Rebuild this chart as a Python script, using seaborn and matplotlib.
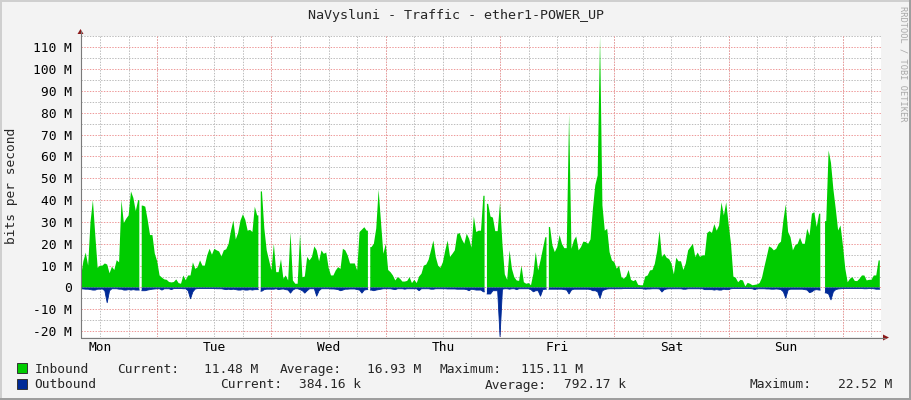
import numpy as np
import pandas as pd
import matplotlib
matplotlib.use("Agg")
import matplotlib.pyplot as plt
from matplotlib.patches import Rectangle, Polygon
from matplotlib.lines import Line2D
import seaborn as sns

# RRDtool-style weekly traffic graph, values in Mbit/s, one sample per 30 min
title = "NaVysluni - Traffic - ether1-POWER_UP"
day_labels = ["Mon", "Tue", "Wed", "Thu", "Fri", "Sat", "Sun"]
step_hours = 0.5
nan = np.nan

inbound_mbps = [
    5, 12, 16, 10, 30, 40, 24, 9, 10, 10, 11, 10.5,
    6.5, 9.5, 8, 12.5, 11.5, 40, 29.5, 31.5, 33, 44, 41, 35,
    40, nan, 37.5, 37, 31, 24, 24, 15.5, 12, 5.5, 4.5, 3.7,
    3.5, 2.5, 2.3, 2.5, 3.7, 2, 1.7, 5.5, 3.3, 5.5, 5.5, 11.5,
    8.5, 9.3, 12.4, 10, 10, 14.7, 17.7, 15, 17.7, 17, 16.5, 14.2,
    17, 17.5, 20, 26, 30.7, 22, 25, 30.7, 33.5, 31, 26, 26.4,
    25.4, 37, 33, nan, 44, 27, 17, 12.4, 7.8, 20, 7, 7,
    13, 4, 5.5, 3.2, 25.4, 3.2, 1.7, 1.7, 24.3, 4.7, 5, 14,
    12.4, 14, 18.8, 17, 12, 17, 15.4, 16, 9, 5.5, 5.5, 7.8,
    9.3, 8.5, 17.7, 17, 14.7, 11, 11, 11, 7.8, 25.4, 26.5, 27.6,
    26, nan, 18.5, 20, 27, 44.8, 30, 15.4, 20, 8, 7, 5.5,
    3.2, 4.7, 4, 2.7, 2.7, 3, 4.7, 2, 3.5, 2, 5, 6.3,
    10, 10.5, 12.7, 17, 21.5, 14, 10, 9, 11.6, 17, 21.5, 14,
    15.4, 17, 24.3, 25, 22, 20, 24.6, 22.3, 18.2, 32.5, 25.4, 26,
    26, 42, nan, 38.3, 32.5, 32, 25.8, 25.8, 39, 20, 6, 3.5,
    17, 8.5, 4.7, 3.2, 3, 10, 2.4, 1.7, 2, 1, 6.3, 16.2,
    7.8, 12.4, 17.7, 23, nan, 27.7, 19.3, 16.2, 18.5, 24, 20, 18,
    18, 79.6, 17.7, 21.5, 23.4, 17, 18.5, 21, 20.8, 20, 22, 36,
    46.8, 51.3, 115, 37.6, 26, 26.9, 16.2, 12.4, 11.6, 8.6, 10, 4.7,
    4, 5, 8, 3.5, 2.9, 3.5, 1.2, 1, 1, 5, 5.5, 7.8,
    8, 10.8, 16.7, 26, 14, 15.4, 13.6, 13, 11, 6, 13.6, 12,
    12, 8, 11, 17, 18.5, 20, 13.9, 16, 14, 14.7, 14.7, 24.9,
    25.8, 25, 29, 26, 28.4, 39, 33, 39, 29, 20, 5, 4.4,
    2.4, 3.5, 3.2, 0.5, 2.1, 1.7, 1, 1.2, 1.4, 2, 4.4, 9.3,
    14, 18.8, 18.2, 17, 17.7, 20, 21, 30.7, 38, 25.4, 23, 17,
    19.3, 20, 22.8, 20, 20, 26.9, 23.8, 33.8, 34.5, 27.7, 33.8, nan,
    nan, 30.4, 62.8, 57, 45, 36, 26.1, 28.4, 19.3, 8.6, 2.4, 4,
    4.7, 3, 2.9, 4, 5.5, 5.5, 3.2, 3.5, 3.5, 5.5, 5.5, 12.4,
]

outbound_mbps = [
    -0.6, -0.7, -0.8, -0.8, -1.0, -1.2, -1.2, -0.8, -0.8, -0.7, -1.5, -7.0,
    -1.5, -0.6, -0.6, -0.6, -0.8, -0.8, -1.2, -1.2, -1.0, -1.2, -1.0, -1.2,
    -1.2, nan, -1.5, -1.5, -1.2, -1.0, -0.8, -0.7, -0.6, -0.6, -1.2, -0.6,
    -0.6, -0.6, -1.0, -0.5, -0.5, -0.5, -0.5, -0.6, -0.6, -1.5, -5.2, -2.0,
    -0.7, -0.5, -0.5, -0.5, -0.5, -0.5, -0.5, -0.5, -0.5, -0.6, -0.6, -0.6,
    -0.8, -1.0, -0.8, -1.0, -0.8, -1.0, -1.2, -1.2, -1.0, -1.2, -1.2, -1.0,
    -1.2, -1.0, -1.0, nan, -1.7, -1.0, -0.8, -0.8, -0.8, -0.8, -0.6, -1.0,
    -0.8, -0.7, -1.0, -1.2, -2.6, -1.2, -0.6, -0.6, -1.0, -1.5, -2.6, -1.5,
    -0.6, -0.6, -0.6, -4.0, -1.5, -0.6, -0.6, -0.6, -0.6, -0.7, -0.7, -0.8,
    -1.0, -1.5, -1.2, -0.8, -0.8, -0.7, -0.7, -0.7, -1.0, -1.2, -2.6, -1.2,
    -1.0, nan, -1.2, -1.5, -1.2, -1.0, -0.8, -0.6, -0.6, -0.6, -0.6, -0.8,
    -1.0, -0.6, -0.6, -0.6, -0.8, -0.6, -0.6, -0.6, -0.6, -0.6, -1.5, -0.6,
    -0.6, -0.6, -0.6, -0.8, -0.8, -0.6, -0.6, -0.6, -0.6, -0.6, -0.7, -0.7,
    -0.7, -0.7, -0.8, -0.8, -0.8, -0.8, -1.0, -1.5, -0.8, -1.0, -1.2, -1.2,
    -1.2, -2.0, nan, -3.0, -3.0, -1.5, -1.5, -1.5, -22.5, -0.8, -0.6, -0.6,
    -0.8, -0.6, -0.6, -1.0, -0.6, -0.6, -0.6, -0.6, -0.6, -1.0, -2.0, -1.5,
    -1.5, -4.0, -1.0, -0.8, nan, -0.8, -0.8, -0.8, -0.8, -0.8, -0.8, -1.0,
    -1.2, -3.0, -1.2, -0.8, -0.8, -0.8, -0.8, -0.8, -0.8, -0.8, -1.0, -1.5,
    -1.5, -2.0, -5.0, -1.5, -1.0, -0.7, -0.6, -0.6, -0.6, -0.6, -0.6, -0.6,
    -0.5, -0.5, -0.5, -0.5, -0.5, -0.5, -0.5, -0.5, -0.6, -0.8, -0.7, -0.7,
    -0.6, -0.6, -0.6, -0.7, -2.1, -1.0, -0.7, -0.6, -0.6, -0.6, -0.6, -0.6,
    -0.6, -0.8, -0.8, -0.6, -0.6, -0.6, -0.6, -0.6, -0.6, -0.6, -1.0, -1.0,
    -1.0, -1.0, -1.2, -1.0, -1.2, -1.2, -0.8, -1.0, -1.0, -0.6, -0.5, -0.5,
    -0.5, -0.5, -0.5, -0.5, -0.5, -0.5, -0.6, -1.0, -0.6, -0.6, -0.6, -0.6,
    -0.7, -0.7, -0.8, -0.8, -0.7, -0.8, -1.0, -2.0, -4.9, -1.2, -0.8, -0.8,
    -0.8, -0.8, -0.8, -0.8, -1.0, -1.2, -2.4, -2.0, -1.2, -1.0, -1.2, nan,
    nan, -2.5, -3.0, -5.7, -2.0, -1.0, -0.7, -0.6, -0.5, -0.5, -0.5, -0.5,
    -0.5, -0.5, -0.5, -0.5, -0.5, -0.6, -0.6, -0.5, -0.5, -0.6, -0.8, -0.8,
]

legend_names = ["Inbound", "Outbound"]
legend_stats = [
    [("Current:", "11.48 M"), ("Average:", "16.93 M"), ("Maximum:", "115.11 M")],
    [("Current:", "384.16 k"), ("Average:", "792.17 k"), ("Maximum:", "22.52 M")],
]

in_color = "#00CC00"
out_color = "#002A97"
W, H = 911, 400

sns.set_theme(style="white")
plt.rcParams["font.family"] = ["DejaVu Sans Mono"]
fs = 9.3


def px(x, y):
    return x / W, 1 - y / H


def area_xy(vals):
    # linear between samples, each run of samples padded by half a step at its ends
    vals = np.asarray(vals, dtype=float)
    xs, ys = [], []
    n = len(vals)
    for i, v in enumerate(vals):
        t = i * step_hours
        if np.isnan(v):
            xs.append(t)
            ys.append(np.nan)
            continue
        if i == 0 or np.isnan(vals[i - 1]):
            xs.append(t - step_hours / 2)
            ys.append(v)
        xs.append(t)
        ys.append(v)
        if i == n - 1 or np.isnan(vals[i + 1]):
            xs.append(t + step_hours / 2)
            ys.append(v)
    return np.array(xs), np.array(ys)


fig = plt.figure(figsize=(W / 100, H / 100), dpi=100, facecolor="#F3F3F3")
ax = fig.add_axes([81 / W, (H - 337) / H, 800 / W, (337 - 36) / H])
ax.set_facecolor("white")

in_x, in_y = area_xy(inbound_mbps)
out_x, out_y = area_xy(outbound_mbps)

ax.fill_between(in_x, 0, np.ma.masked_invalid(in_y), color=in_color, lw=0, zorder=3)
ax.fill_between(out_x, 0, np.ma.masked_invalid(out_y), color=out_color, lw=0, zorder=3)

df = pd.DataFrame({"hour": out_x, "out": out_y})
df["seg"] = np.isnan(out_y).cumsum()
df = df.dropna()
sns.lineplot(data=df, x="hour", y="out", units="seg", estimator=None, sort=False,
             color=out_color, lw=0.6, ax=ax, legend=False, zorder=4)

ax.set_xlim(0, 168)
ax.set_ylim(-22.7, 115.2)
ax.set_xlabel("")
ax.set_ylabel("")

# grid
gray = "#BDBDBD"
red = "#EE9A9A"
dots = (0, (1.4, 1.4))
six_h = np.arange(4, 168, 6)
midnights = np.arange(16, 168, 24)
y_major = np.arange(-20, 111, 10)
y_minor = np.arange(-15, 116, 10)
for x in six_h:
    ax.axvline(x, color=gray, lw=0.72, ls=dots, zorder=1)
for x in midnights:
    ax.axvline(x, color=red, lw=0.72, ls=dots, zorder=2)
for y in y_minor:
    ax.axhline(y, color=gray, lw=0.72, ls=dots, zorder=1)
for y in y_major:
    ax.axhline(y, color=red, lw=0.72, ls=dots, zorder=2)

ax.set_xticks(np.arange(4, 168, 24), labels=day_labels)
ax.set_xticks(six_h, minor=True)
ax.set_yticks(y_major, labels=["0" if v == 0 else f"{v} M" for v in y_major])
ax.set_yticks(y_minor, minor=True)
ax.tick_params(axis="x", which="major", length=0, pad=2.6, labelsize=fs, colors="black")
ax.tick_params(axis="x", which="minor", length=2, width=0.7, color="#777777", direction="out")
ax.tick_params(axis="y", which="major", length=2, width=0.7, color="#777777",
               direction="out", pad=4.4, labelsize=fs, labelcolor="black")
ax.tick_params(axis="y", which="minor", length=1.2, width=0.7, color="#777777", direction="out")
for s in ax.spines.values():
    s.set_visible(False)

# axis lines with arrows
axis_c = "#7A7A7A"
arrow_c = "#8B1A1A"
fig.add_artist(Line2D(*zip(px(80.5, 337.5), px(80.5, 31)), color=axis_c, lw=0.8))
fig.add_artist(Line2D(*zip(px(80.5, 337.5), px(885, 337.5)), color=axis_c, lw=0.8))
fig.add_artist(Polygon([px(77.5, 34), px(83.5, 34), px(80.5, 29)], closed=True,
                       transform=fig.transFigure, color=arrow_c, lw=0))
fig.add_artist(Polygon([px(883, 334.5), px(883, 340.5), px(889, 337.5)], closed=True,
                       transform=fig.transFigure, color=arrow_c, lw=0))

# texts
fig.text(*px(455.5, 19), title, ha="center", va="baseline", fontsize=9.6)
fig.text(*px(12, 186), "bits per second", rotation=90, ha="center", va="center", fontsize=fs)
fig.text(*px(903, 6), "RRDTOOL / TOBI OETIKER", rotation=270, ha="center", va="top",
         fontsize=6.2, color="#A8A8A8")

# legend
rows_y = [373, 388.5]
box_top = [363.3, 379.3]
stat_x = [
    [(116.7, 204), (279.3, 366.7), (440, 521)],
    [(220, 299.3), (485, 564.3), (749.3, 837.7)],
]
for r, (name, color) in enumerate(zip(legend_names, [in_color, out_color])):
    x0, y0 = px(17.3, box_top[r] + 10)
    fig.add_artist(Rectangle((x0, y0), 10 / W, 10 / H, transform=fig.transFigure,
                             facecolor=color, edgecolor="#333333", lw=0.7))
    fig.text(*px(34.3, rows_y[r]), name, ha="left", va="baseline", fontsize=fs)
    for (lbl, val), (xl, xv) in zip(legend_stats[r], stat_x[r]):
        fig.text(*px(xl, rows_y[r]), lbl, ha="left", va="baseline", fontsize=fs)
        fig.text(*px(xv, rows_y[r]), val, ha="left", va="baseline", fontsize=fs)

# 3d shade border
fig.add_artist(Rectangle(px(0, 2), 1, 2 / H, transform=fig.transFigure, color="#CFCFCF", lw=0))
fig.add_artist(Rectangle(px(0, 400), 2 / W, 1, transform=fig.transFigure, color="#CFCFCF", lw=0))
fig.add_artist(Rectangle(px(909, 400), 2 / W, 1, transform=fig.transFigure, color="#9E9E9E", lw=0))
fig.add_artist(Rectangle(px(0, 400), 1, 2 / H, transform=fig.transFigure, color="#9E9E9E", lw=0))

fig.savefig("out.png", dpi=100, facecolor=fig.get_facecolor())
